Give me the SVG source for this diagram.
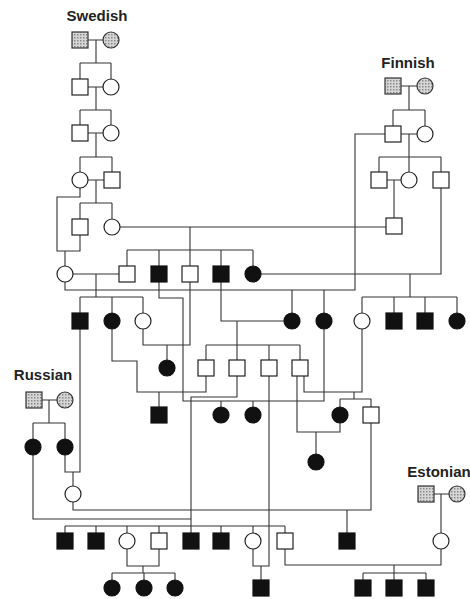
<svg xmlns="http://www.w3.org/2000/svg" width="470" height="599" viewBox="0 0 470 599">
<style>
.t{font-family:"Liberation Sans",Arial,sans-serif;font-weight:bold;font-size:15px;fill:#222;text-anchor:middle}
.o{fill:#fff;stroke:#222;stroke-width:1.2}
.f{fill:#111;stroke:#111;stroke-width:1.2}
.s{fill:url(#stip);stroke:#333;stroke-width:1.2}
#conn path{fill:none;stroke:#333;stroke-width:1.1}
</style>
<defs>
<pattern id="stip" width="3" height="3" patternUnits="userSpaceOnUse"><rect width="3" height="3" fill="#d6d6d6"/><rect width="1.5" height="1.5" fill="#8a8a8a"/></pattern>
<rect id="sq" x="-8" y="-8" width="16" height="16"/>
<circle id="ci" r="8"/>
</defs>
<rect width="470" height="599" fill="#fff"/>
<g id="labels">
<text class="t" x="97" y="21">Swedish</text>
<text class="t" x="408" y="68">Finnish</text>
<text class="t" x="43" y="380">Russian</text>
<text class="t" x="439" y="477">Estonian</text>
</g>
<g id="conn">
<path d="M88 40H103M96 40V63M80 63H111M80 63V79M111 63V79"/>
<path d="M88 87H103M96 87V110M80 110H111M80 110V125M111 110V125"/>
<path d="M88 133H103M96 133V157M80 157H112M80 157V172M112 157V172"/>
<path d="M88 180H104M96 180V203M80 203H112M80 203V219M112 203V219"/>
<path d="M80 188V197H57V251H80V235M65 251V266"/>
<path d="M120 227H386M190 227V250M127 250H253M127 250V266M159 250V266M190 250V266M221 250V266M253 250V266"/>
<path d="M401 86H417M409 86V110M393 110H425M393 110V126M425 110V126"/>
<path d="M401 134H417M409 134V157M379 157H441M379 157V172M409 157V172M441 157V172"/>
<path d="M387 180H401M394 180V218"/>
<path d="M385 134H355V290H65V282"/>
<path d="M441 188V274H261M410 274V297M362 297H457M362 297V313M394 297V313M425 297V313M457 297V313"/>
<path d="M73 274H119M96 274V297M80 297H143M80 297V313M112 297V313M143 297V313"/>
<path d="M159 282V298H183V401H324V329M221 401V407M253 401V407"/>
<path d="M190 282V345H143V329M167 345V360"/>
<path d="M221 282V321H284M237 321V345M206 345H300M206 345V360M237 345V360M269 345V360M300 345V360"/>
<path d="M292 290V313M324 290V313"/>
<path d="M112 329V361H137V392H206V376M159 392V407"/>
<path d="M237 376V397H191V533M33 455V519H191"/>
<path d="M269 376V566H253V549M261 566V580"/>
<path d="M297 376V432H340V423M316 432V454"/>
<path d="M304 376V392H362V329M354 392V399M340 399H371M340 399V407M371 399V407"/>
<path d="M371 423V510H73V502M347 510V533"/>
<path d="M80 329V472H65V455M73 472V486"/>
<path d="M42 400H57M49 400V423M33 423H65M33 423V439M65 423V439"/>
<path d="M65 526H285M65 526V533M96 526V533M127 526V533M159 526V533M221 526V533M253 526V533M285 526V533"/>
<path d="M127 549V566H159V549M143 566V573M112 573H175M112 573V580M144 573V580M175 573V580"/>
<path d="M285 549V565H441V549M394 565V573M363 573H426M363 573V580M394 573V580M426 573V580"/>
<path d="M434 494H449M441 494V533"/>
</g>
<g id="swedish">
<use href="#sq" class="s" x="80" y="40"/><use href="#ci" class="s" x="111" y="40"/>
<use href="#sq" class="o" x="80" y="87"/><use href="#ci" class="o" x="111" y="87"/>
<use href="#sq" class="o" x="80" y="133"/><use href="#ci" class="o" x="111" y="133"/>
<use href="#ci" class="o" x="80" y="180"/><use href="#sq" class="o" x="112" y="180"/>
<use href="#sq" class="o" x="80" y="227"/><use href="#ci" class="o" x="112" y="227"/>
</g>
<g id="finnish">
<use href="#sq" class="s" x="393" y="86"/><use href="#ci" class="s" x="425" y="86"/>
<use href="#sq" class="o" x="393" y="134"/><use href="#ci" class="o" x="425" y="134"/>
<use href="#sq" class="o" x="379" y="180"/><use href="#ci" class="o" x="409" y="180"/><use href="#sq" class="o" x="441" y="180"/>
<use href="#sq" class="o" x="394" y="226"/>
</g>
<g id="gen6">
<use href="#ci" class="o" x="65" y="274"/>
<use href="#sq" class="o" x="127" y="274"/>
<use href="#sq" class="f" x="159" y="274"/>
<use href="#sq" class="o" x="190" y="274"/>
<use href="#sq" class="f" x="221" y="274"/>
<use href="#ci" class="f" x="253" y="274"/>
</g>
<g id="gen7">
<use href="#sq" class="f" x="80" y="321"/>
<use href="#ci" class="f" x="112" y="321"/>
<use href="#ci" class="o" x="143" y="321"/>
<use href="#ci" class="f" x="292" y="321"/>
<use href="#ci" class="f" x="324" y="321"/>
<use href="#ci" class="o" x="362" y="321"/>
<use href="#sq" class="f" x="394" y="321"/>
<use href="#sq" class="f" x="425" y="321"/>
<use href="#ci" class="f" x="457" y="321"/>
</g>
<g id="gen8">
<use href="#ci" class="f" x="167" y="368"/>
<use href="#sq" class="o" x="206" y="368"/>
<use href="#sq" class="o" x="237" y="368"/>
<use href="#sq" class="o" x="269" y="368"/>
<use href="#sq" class="o" x="300" y="368"/>
</g>
<g id="gen9">
<use href="#sq" class="f" x="159" y="415"/>
<use href="#ci" class="f" x="221" y="415"/>
<use href="#ci" class="f" x="253" y="415"/>
<use href="#ci" class="f" x="340" y="415"/>
<use href="#sq" class="o" x="371" y="415"/>
<use href="#ci" class="f" x="316" y="462"/>
</g>
<g id="russian">
<use href="#sq" class="s" x="34" y="400"/><use href="#ci" class="s" x="65" y="400"/>
<use href="#ci" class="f" x="33" y="447"/><use href="#ci" class="f" x="65" y="447"/>
<use href="#ci" class="o" x="73" y="494"/>
</g>
<g id="estonian">
<use href="#sq" class="s" x="426" y="494"/><use href="#ci" class="s" x="457" y="494"/>
<use href="#ci" class="o" x="441" y="541"/>
</g>
<g id="row10">
<use href="#sq" class="f" x="65" y="541"/>
<use href="#sq" class="f" x="96" y="541"/>
<use href="#ci" class="o" x="127" y="541"/>
<use href="#sq" class="o" x="159" y="541"/>
<use href="#sq" class="f" x="191" y="541"/>
<use href="#sq" class="f" x="221" y="541"/>
<use href="#ci" class="o" x="253" y="541"/>
<use href="#sq" class="o" x="285" y="541"/>
<use href="#sq" class="f" x="347" y="541"/>
</g>
<g id="row11">
<use href="#ci" class="f" x="112" y="588"/>
<use href="#ci" class="f" x="144" y="588"/>
<use href="#ci" class="f" x="175" y="588"/>
<use href="#sq" class="f" x="261" y="588"/>
<use href="#sq" class="f" x="363" y="588"/>
<use href="#sq" class="f" x="394" y="588"/>
<use href="#sq" class="f" x="426" y="588"/>
</g>
</svg>
